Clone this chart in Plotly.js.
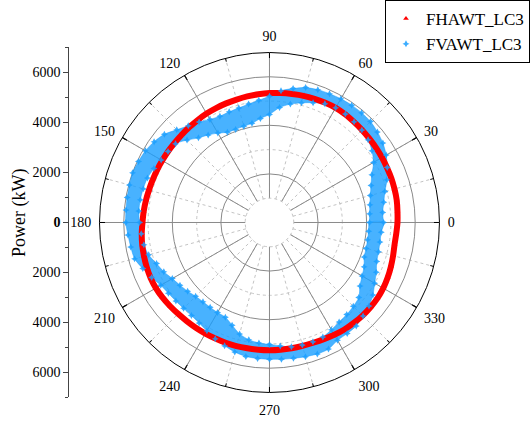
<!DOCTYPE html>
<html>
<head>
<meta charset="utf-8">
<script src="https://cdn.plot.ly/plotly-3.0.1.min.js"></script>
<style>
  html, body { margin: 0; padding: 0; background: #fff; }
  #chart { width: 530px; height: 423px; }
</style>
</head>
<body>
<div id="chart"></div>
<script>
// Azimuth of each sample (deg)
const angles = [0,5,10,15,20,25,30,35,40,45,50,55,60,65,70,75,80,85,
  90,95,100,105,110,115,120,125,130,135,140,145,150,155,160,165,170,175,
  180,185,190,195,200,205,210,215,220,225,230,235,240,245,250,255,260,265,
  270,275,280,285,290,295,300,305,310,315,320,325,330,335,340,345,350,355];

// FHAWT_LC3 power (kW), centre of the scatter band
const fhawtPower = [5270,5290,5320,5330,5340,5340,5350,5360,5370,5390,5410,5440,5450,5440,5420,5400,5370,5350,
  5330,5300,5270,5240,5220,5200,5180,5150,5130,5110,5100,5100,5100,5110,5120,5140,5170,5200,
  5230,5280,5320,5350,5380,5400,5400,5380,5350,5320,5300,5290,5280,5270,5270,5270,5260,5260,
  5260,5260,5260,5260,5270,5300,5340,5380,5400,5420,5430,5430,5410,5370,5320,5270,5230,5240];

// FVAWT_LC3 power (kW), inner and outer edge of the scatter band
const fvawtLow = [4120,4140,4200,4300,4450,4650,4950,5150,5300,5380,5420,5450,5450,5400,5250,5100,4950,4750,
  4450,4300,4150,4100,4080,4100,4250,4400,4550,4800,5050,5100,5150,5250,5350,5380,5400,5400,
  5350,5300,5250,5150,4950,4800,4620,4500,4400,4300,4260,4260,4280,4300,4500,4750,4900,4980,
  5020,5100,5200,5220,5230,5200,5100,5000,4950,4880,4800,4550,4400,4300,4150,4120,4100,4100];
const fvawtHigh = [4700,4680,4780,4920,5150,5350,5550,5700,5800,5880,5900,5900,5880,5850,5820,5750,5600,5450,
  5200,5050,4950,4880,4850,4830,4900,5050,5200,5400,5650,5800,5900,5950,6000,5970,5950,5930,
  5920,5850,5800,5750,5550,5350,5170,5080,5030,5000,5000,5050,5150,5280,5400,5520,5600,5620,
  5630,5650,5680,5720,5760,5750,5600,5580,5560,5450,5350,5200,5000,4850,4700,4650,4620,4620];

// Angular tick labels (deg)
const dirTicks = [0,30,60,90,120,150,180,210,240,270,300,330];
const dirTickText = ['0','30','60','90','120','150','180','210','240','270','300','330'];

// Left-hand power scale
const powerTicks = [-6000,-4000,-2000,0,2000,4000,6000];
const powerTickText = ['6000','4000','2000','<b>0</b>','2000','4000','6000'];
const powerMinor = [-7000,-5000,-3000,-1000,1000,3000,5000,7000];

const RED = '#ff0000';
const BLUE = '#1a9fff';
const SERIF = 'Liberation Serif';

// closed loops
const thClosed = angles.concat([angles[0] + 360]);
const redClosed = fhawtPower.concat([fhawtPower[0]]);
const bandTheta = thClosed.concat(thClosed.slice().reverse());
const bandR = fvawtHigh.concat([fvawtHigh[0]]).concat(fvawtLow.concat([fvawtLow[0]]).reverse());

const emptyPolar = (id) => ({
  type: 'scatterpolar', subplot: id, mode: 'markers', r: [], theta: [],
  showlegend: false, hoverinfo: 'skip'
});

const traces = [
  { // carries the left-hand power axis
    type: 'scatter', x: [], y: [], xaxis: 'x', yaxis: 'y',
    showlegend: false, hoverinfo: 'skip'
  },
  emptyPolar('polar'),
  { // FVAWT band body
    type: 'scatterpolar', subplot: 'polar2', mode: 'lines',
    r: bandR, theta: bandTheta, fill: 'toself',
    fillcolor: 'rgba(26,159,255,0.80)',
    line: { color: 'rgba(26,159,255,0.5)', width: 1, shape: 'spline', smoothing: 0.8 },
    showlegend: false, hoverinfo: 'skip'
  },
  { // FHAWT band body
    type: 'scatterpolar', subplot: 'polar2', mode: 'lines',
    r: redClosed, theta: thClosed,
    line: { color: RED, width: 6, shape: 'spline', smoothing: 0.8 },
    showlegend: false, hoverinfo: 'skip'
  },
  {
    type: 'scatterpolar', subplot: 'polar2', mode: 'markers', name: 'FHAWT_LC3',
    r: fhawtPower, theta: angles,
    marker: { symbol: 'triangle-up', size: 5, color: RED }
  },
  {
    type: 'scatterpolar', subplot: 'polar2', mode: 'markers', name: 'FVAWT_LC3',
    r: fvawtLow.concat(fvawtHigh), theta: angles.concat(angles),
    marker: { symbol: 'star-diamond', size: 5, color: BLUE, opacity: 0.85 }
  },
  emptyPolar('polar3')
];

const dom = { x: [0.1877, 0.8292], y: [0.0721, 0.8759] };

const layout = {
  width: 530, height: 423,
  margin: { l: 0, r: 0, t: 0, b: 0 },
  paper_bgcolor: '#fff',
  font: { family: SERIF, size: 14, color: '#000' },
  showlegend: true,
  legend: {
    x: 0.7264, xanchor: 'left', y: 1, yanchor: 'top',
    bordercolor: '#000', borderwidth: 1, bgcolor: '#fff',
    font: { family: SERIF, size: 17, color: '#000' },
    tracegroupgap: 0
  },
  // dotted minor grid and minor ticks underneath
  polar: {
    domain: dom, hole: 1 / 7, bgcolor: '#fff',
    radialaxis: {
      range: [1000, 7000], tickvals: [3000, 5000],
      showticklabels: false, ticks: '', showline: false,
      gridcolor: '#c4c4c4', griddash: 'dot', gridwidth: 1
    },
    angularaxis: {
      direction: 'counterclockwise', rotation: 0, dtick: 15,
      showticklabels: false, ticks: 'inside', ticklen: 3, tickcolor: '#000',
      showline: false, gridcolor: '#c4c4c4', griddash: 'dot', gridwidth: 1
    }
  },
  // solid major grid, major ticks, and the data
  polar2: {
    domain: dom, hole: 1 / 7, bgcolor: 'rgba(0,0,0,0)',
    radialaxis: {
      range: [1000, 7000], tickvals: [2000, 4000, 6000],
      showticklabels: false, ticks: '', showline: false,
      gridcolor: '#8a8a8a', gridwidth: 1
    },
    angularaxis: {
      direction: 'counterclockwise', rotation: 0,
      tickmode: 'array', tickvals: dirTicks, ticktext: dirTickText,
      ticks: 'inside', ticklen: 5, tickcolor: '#000',
      showticklabels: false, showline: false,
      gridcolor: '#8a8a8a', gridwidth: 1
    }
  },
  // outer frame, inner dotted ring, direction labels
  polar3: {
    domain: dom, hole: 0, bgcolor: 'rgba(0,0,0,0)',
    radialaxis: {
      range: [0, 7000], tickvals: [1000],
      showticklabels: false, ticks: '', showline: false,
      gridcolor: '#c4c4c4', griddash: 'dot', gridwidth: 1
    },
    angularaxis: {
      direction: 'counterclockwise', rotation: 0,
      tickmode: 'array', tickvals: dirTicks, ticktext: dirTickText,
      ticks: 'outside', ticklen: 5, tickcolor: 'rgba(0,0,0,0)',
      showline: true, linecolor: '#000', linewidth: 1,
      showgrid: false,
      tickfont: { family: SERIF, size: 14, color: '#000' }
    }
  },
  xaxis: { domain: [0.1311, 0.14], visible: false, range: [0, 1], fixedrange: true },
  yaxis: {
    domain: [0.0608, 0.8882], anchor: 'x', side: 'left',
    range: [-7000, 7000], fixedrange: true,
    showline: true, linecolor: '#444', linewidth: 1.2,
    showgrid: false, zeroline: false,
    ticks: 'outside', ticklen: 5, tickcolor: '#444',
    tickvals: powerTicks, ticktext: powerTickText,
    tickfont: { family: SERIF, size: 14, color: '#000' },
    minor: { tickvals: powerMinor, ticks: 'outside', ticklen: 3, tickcolor: '#444', showgrid: false }
  },
  annotations: [{
    text: 'Power (kW)', textangle: -90, showarrow: false,
    xref: 'paper', yref: 'paper', x: 20 / 530, y: 0.4965,
    xanchor: 'center', yanchor: 'middle',
    font: { family: SERIF, size: 18, color: '#000' }
  }]
};

Plotly.newPlot('chart', traces, layout, { staticPlot: true, displayModeBar: false });
</script>
</body>
</html>
